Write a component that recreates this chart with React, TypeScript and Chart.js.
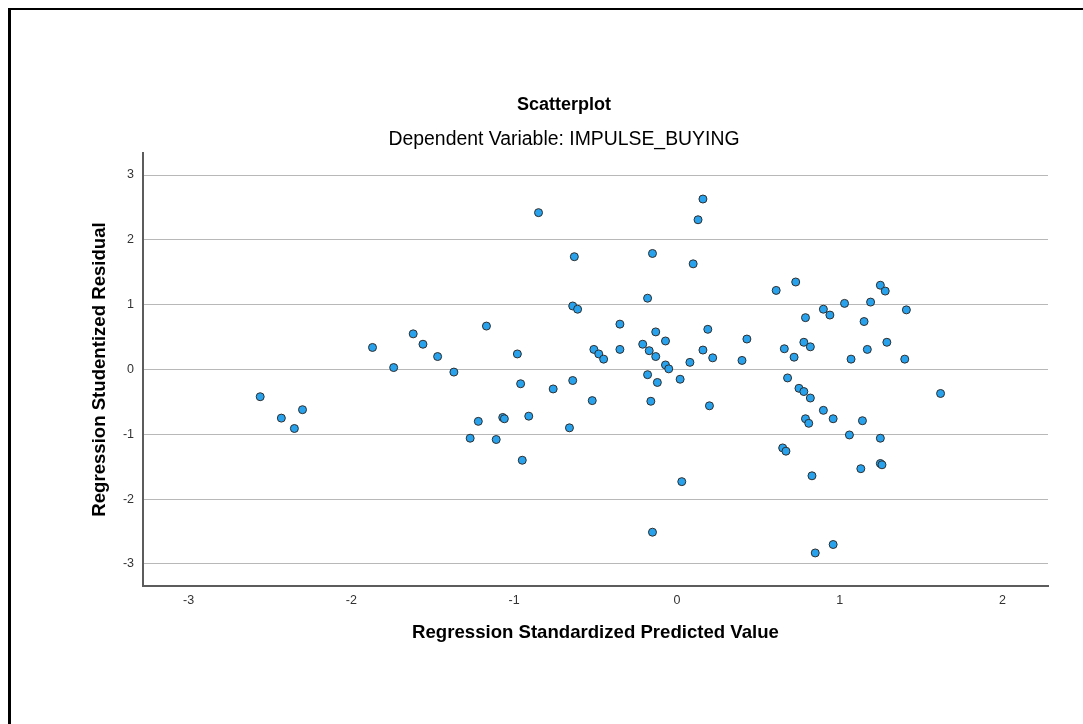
import React, { useEffect, useRef } from 'react';
import { Chart, registerables } from 'chart.js';

Chart.register(...registerables);

// Regression Standardized Predicted Value (x) / Regression Studentized Residual (y)
const predicted = [
  -1.74, -1.62, -1.56, -1.47, -1.37, -1.17, -0.98, -0.96, -0.85, -0.76,
  -0.64, -0.63, -0.64, -0.61, -0.52, -0.51, -0.48, -0.45, -0.35, -0.35,
  -0.21, -0.18, -0.15, -0.17, -0.18, -0.13, -0.13, -0.12, -0.16, -0.07,
  -0.07, -0.05, 0.02, 0.08, 0.10, 0.13, 0.16, 0.16, 0.19, 0.22,
  0.20, -1.22, -1.07, -1.06, -0.91, -0.66, -1.27, -1.11, -0.95, 0.03,
  -0.15, -2.56, -2.43, -2.30, -2.35, -1.87, 0.61, 0.73, 0.40, 0.43,
  0.66, 0.72, 0.79, 0.78, 0.82, 0.90, 0.94, 1.03, 1.15, 1.07,
  1.17, 1.19, 1.25, 1.28, 1.29, 1.41, 1.40, 0.68, 0.75, 0.78,
  0.82, 1.62, 0.90, 0.79, 0.81, 0.96, 1.14, 1.06, 1.25, 0.65,
  0.67, 1.13, 1.25, 1.26, 0.83, 0.96, 0.85,
];

const residual = [
  0.03, 0.55, 0.39, 0.20, -0.04, 0.67, 0.24, -0.22, 2.42, -0.30,
  -0.17, 1.74, 0.98, 0.93, -0.48, 0.31, 0.24, 0.16, 0.70, 0.31,
  0.39, 1.10, 1.79, 0.29, -0.08, 0.58, 0.20, -0.20, -0.49, 0.44,
  0.07, 0.01, -0.15, 0.11, 1.63, 2.31, 2.63, 0.30, 0.62, 0.18,
  -0.56, -0.80, -0.74, -0.76, -0.72, -0.90, -1.06, -1.08, -1.40, -1.73,
  -2.51, -0.42, -0.75, -0.62, -0.91, 0.34, 1.22, 1.35, 0.14, 0.47,
  0.32, 0.19, 0.80, 0.42, 0.35, 0.93, 0.84, 1.02, 0.74, 0.16,
  0.31, 1.04, 1.30, 1.21, 0.42, 0.92, 0.16, -0.13, -0.29, -0.34,
  -0.44, -0.37, -0.63, -0.76, -0.83, -0.76, -0.79, -1.01, -1.06, -1.21,
  -1.26, -1.53, -1.45, -1.47, -1.64, -2.70, -2.83,
];

const xTicks = [-3, -2, -1, 0, 1, 2];
const yTicks = [-3, -2, -1, 0, 1, 2, 3];

const titleText = 'Scatterplot';
const subtitleText = 'Dependent Variable: IMPULSE_BUYING';
const xTitle = 'Regression Standardized Predicted Value';
const yTitle = 'Regression Studentized Residual';

const FONT = '"Liberation Sans", Arial, sans-serif';

export default function App() {
  const canvasRef = useRef<HTMLCanvasElement | null>(null);

  useEffect(() => {
    const canvas = canvasRef.current;
    if (!canvas) return;
    const points = predicted.map((x, i) => ({ x, y: residual[i] }));
    const chart = new Chart(canvas, {
      type: 'scatter',
      data: {
        datasets: [
          {
            data: points,
            pointRadius: 4,
            pointHoverRadius: 4,
            pointBackgroundColor: 'rgb(40,162,236)',
            pointBorderColor: '#2e2e2e',
            pointBorderWidth: 1,
          },
        ],
      },
      options: {
        animation: false,
        responsive: false,
        maintainAspectRatio: false,
        devicePixelRatio: 1,
        events: [],
        layout: { padding: { left: 45, right: 0, top: 0, bottom: 79.84 } },
        plugins: {
          legend: { display: false },
          tooltip: { enabled: false },
          title: {
            display: true,
            text: titleText,
            color: '#000',
            font: { family: FONT, size: 18, weight: 'bold', lineHeight: 1.2 },
            padding: { top: 94.2, bottom: 0 },
          },
          subtitle: {
            display: true,
            text: subtitleText,
            color: '#000',
            font: { family: FONT, size: 19.4, weight: 'normal', lineHeight: 1.2 },
            padding: { top: 12.56, bottom: 1.36 },
          },
        },
        scales: {
          x: {
            type: 'linear',
            position: 'bottom',
            min: -3.28,
            max: 2.28,
            afterBuildTicks: (s: any) => {
              s.ticks = xTicks.map((v) => ({ value: v }));
            },
            afterFit: (s: any) => {
              s.height = 58.16;
              s.paddingRight = 35;
              s.paddingLeft = 0;
            },
            grid: { display: false, drawTicks: false },
            border: { display: true, color: '#5c5c5c', width: 2 },
            ticks: {
              color: '#333',
              font: { family: FONT, size: 12.5 },
              padding: 7,
              maxRotation: 0,
            },
            title: {
              display: true,
              text: xTitle,
              color: '#000',
              font: { family: FONT, size: 18.6, weight: 'bold', lineHeight: 1.2 },
              padding: { top: 0, bottom: 0 },
            },
          },
          y: {
            type: 'linear',
            position: 'left',
            min: -3.34,
            max: 3.34,
            afterBuildTicks: (s: any) => {
              s.ticks = yTicks.map((v) => ({ value: v }));
            },
            afterFit: (s: any) => {
              s.width = 98;
            },
            grid: { color: '#b8b8b8', lineWidth: 1, drawTicks: false },
            border: { display: true, color: '#5c5c5c', width: 2 },
            ticks: {
              color: '#333',
              font: { family: FONT, size: 12.5 },
              padding: 9,
            },
            title: {
              display: true,
              text: yTitle,
              color: '#000',
              font: { family: FONT, size: 18.6, weight: 'bold', lineHeight: 1.2 },
              padding: { top: 43.84, bottom: 0 },
            },
          },
        },
      },
    });
    return () => chart.destroy();
  }, []);

  return (
    <div
      style={{
        position: 'fixed',
        left: 0,
        top: 0,
        width: 1083,
        height: 724,
        overflow: 'hidden',
        background: '#fff',
      }}
    >
      <div
        style={{
          position: 'absolute',
          left: 8,
          top: 8,
          width: 1400,
          height: 1000,
          borderLeft: '3px solid #000',
          borderTop: '2px solid #000',
        }}
      />
      <canvas
        ref={canvasRef}
        width={1083}
        height={724}
        style={{ position: 'absolute', left: 0, top: 0 }}
      />
    </div>
  );
}
